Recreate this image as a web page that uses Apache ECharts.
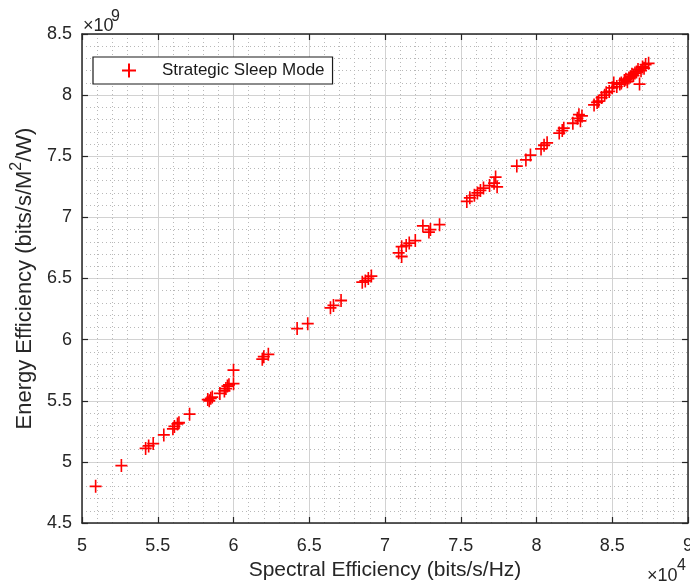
<!DOCTYPE html>
<html>
<head>
<meta charset="utf-8">
<script src="https://cdn.jsdelivr.net/npm/echarts@6/dist/echarts.min.js"></script>
<style>
html,body{margin:0;padding:0;background:#fff;overflow:hidden;}
#chart{width:690px;height:587px;}
</style>
</head>
<body>
<div id="chart"></div>
<script>
// Series name
const seriesName = 'Strategic Sleep Mode';

// Spectral efficiency (x, in units of 1e4 bits/s/Hz)
const spectralEff = [
  5.09, 5.26, 5.42, 5.44, 5.47, 5.54, 5.60, 5.61, 5.63, 5.64,
  5.71, 5.83, 5.84, 5.85, 5.86, 5.91, 5.94, 5.95, 5.96, 5.97,
  6.00, 6.00, 6.19, 6.20, 6.23, 6.42, 6.49, 6.64, 6.66, 6.71,
  6.85, 6.87, 6.89, 6.91, 7.09, 7.11, 7.11, 7.14, 7.16, 7.20,
  7.25, 7.29, 7.30, 7.36, 7.54, 7.56, 7.59, 7.61, 7.63, 7.65,
  7.69, 7.72, 7.73, 7.74, 7.87, 7.93, 7.96, 8.03, 8.05, 8.07,
  8.15, 8.17, 8.18, 8.24, 8.27, 8.28, 8.29, 8.30, 8.38, 8.40,
  8.41, 8.43, 8.45, 8.46, 8.48, 8.50, 8.51, 8.53, 8.55, 8.56,
  8.58, 8.59, 8.60, 8.61, 8.62, 8.63, 8.64, 8.65, 8.66, 8.67,
  8.68, 8.69, 8.70, 8.71, 8.72, 8.74
];

// Energy efficiency (y, in units of 1e9 bits/s/M^2/W)
const energyEff = [
  4.80, 4.97, 5.11, 5.13, 5.15, 5.22, 5.27, 5.29, 5.31, 5.32,
  5.39, 5.51, 5.50, 5.52, 5.53, 5.56, 5.58, 5.60, 5.62, 5.63,
  5.64, 5.75, 5.84, 5.86, 5.88, 6.09, 6.13, 6.26, 6.28, 6.32,
  6.47, 6.48, 6.50, 6.52, 6.71, 6.68, 6.76, 6.77, 6.79, 6.81,
  6.93, 6.88, 6.90, 6.94, 7.13, 7.16, 7.18, 7.20, 7.22, 7.24,
  7.26, 7.28, 7.33, 7.25, 7.42, 7.47, 7.51, 7.56, 7.59, 7.61,
  7.69, 7.71, 7.73, 7.77, 7.81, 7.84, 7.79, 7.83, 7.92, 7.94,
  7.95, 7.98, 8.00, 8.02, 8.03, 8.06, 8.10, 8.07, 8.09, 8.10,
  8.12, 8.13, 8.11, 8.14, 8.15, 8.17, 8.16, 8.18, 8.19, 8.21,
  8.09, 8.20, 8.23, 8.22, 8.25, 8.26
];

// Axis ranges / ticks
const xTicks = [5, 5.5, 6, 6.5, 7, 7.5, 8, 8.5, 9];
const yTicks = [4.5, 5, 5.5, 6, 6.5, 7, 7.5, 8, 8.5];
const xTitle = 'Spectral Efficiency (bits/s/Hz)';
const yTitle = 'Energy Efficiency (bits/s/M{sup|2}/W)';
const xExponent = '4';
const yExponent = '9';

const FONT = '"Liberation Sans", Arial, Helvetica, sans-serif';
const TXT = '#262626';
const plusPath = 'path://M5,0L5,10M0,5L10,5';

const points = spectralEff.map((x, i) => [x, energyEff[i]]);

const chart = echarts.init(document.getElementById('chart'), null, {renderer: 'canvas', width: 690, height: 587});

const baseX = {
  type: 'value',
  min: xTicks[0], max: xTicks[xTicks.length - 1],
  interval: xTicks[1] - xTicks[0],
  axisLine: {show: true, onZero: false, lineStyle: {color: TXT, width: 1.5}},
  axisTick: {show: true, inside: true, length: 6, lineStyle: {color: TXT, width: 1.2}},
  minorTick: {show: false, splitNumber: 5},
};
const baseY = {
  type: 'value',
  min: yTicks[0], max: yTicks[yTicks.length - 1],
  interval: yTicks[1] - yTicks[0],
  axisLine: {show: true, onZero: false, lineStyle: {color: TXT, width: 1.5}},
  axisTick: {show: true, inside: true, length: 6, lineStyle: {color: TXT, width: 1.2}},
  minorTick: {show: false, splitNumber: 5},
};

const option = {
  animation: false,
  backgroundColor: '#ffffff',
  textStyle: {fontFamily: FONT},
  grid: {left: 82, width: 606, top: 34, height: 489, containLabel: false, outerBoundsMode: 'none'},
  xAxis: [
    Object.assign({}, baseX, {
      position: 'bottom',
      axisLabel: {show: true, fontSize: 18, color: TXT, margin: 14, fontFamily: FONT},
      splitLine: {show: true, lineStyle: {color: '#d2d2d2', width: 1}},
      minorSplitLine: {show: true, lineStyle: {color: '#b8b8b8', width: 1, type: [1, 3]}},
      name: xTitle,
      nameLocation: 'middle',
      nameGap: 31,
      nameTextStyle: {fontSize: 21, color: TXT, fontFamily: FONT},
    }),
    Object.assign({}, baseX, {
      position: 'top',
      axisLabel: {show: false},
      splitLine: {show: false},
      minorSplitLine: {show: false},
    }),
  ],
  yAxis: [
    Object.assign({}, baseY, {
      position: 'left',
      axisLabel: {show: true, fontSize: 18, color: TXT, margin: 10, fontFamily: FONT},
      splitLine: {show: true, lineStyle: {color: '#d2d2d2', width: 1}},
      minorSplitLine: {show: true, lineStyle: {color: '#b8b8b8', width: 1, type: [1, 3]}},
      name: yTitle,
      nameLocation: 'middle',
      nameRotate: 90,
      nameGap: 34,
      nameTextStyle: {
        fontSize: 22, color: TXT, fontFamily: FONT,
        rich: {sup: {fontSize: 16, color: TXT, fontFamily: FONT, padding: [0, 0, 16, 0]}}
      },
    }),
    Object.assign({}, baseY, {
      position: 'right',
      axisLabel: {show: false},
      splitLine: {show: false},
      minorSplitLine: {show: false},
    }),
  ],
  legend: {
    show: true,
    left: 93, top: 57,
    orient: 'horizontal',
    backgroundColor: '#ffffff',
    borderColor: '#1a1a1a',
    borderWidth: 1.2,
    borderRadius: 0,
    padding: [5, 8, 5, 28],
    itemWidth: 14, itemHeight: 14,
    data: [{name: seriesName, icon: plusPath}],
    textStyle: {fontSize: 17, color: '#1a1a1a', fontFamily: FONT, padding: [0, 0, 0, 21]},
    selectedMode: false,
  },
  series: [{
    name: seriesName,
    type: 'scatter',
    xAxisIndex: 0, yAxisIndex: 0,
    data: points,
    symbol: plusPath,
    symbolSize: [12, 13],
    itemStyle: {color: 'rgba(0,0,0,0)', borderColor: '#ff0000', borderWidth: 1.7, opacity: 1},
    emphasis: {disabled: true},
    z: 5,
  }],
  graphic: [
    {type: 'text', x: 83, y: 26, style: {text: '×10', font: '18px ' + FONT, fill: TXT, verticalAlign: 'middle'}},
    {type: 'text', x: 111, y: 17, style: {text: yExponent, font: '16px ' + FONT, fill: TXT, verticalAlign: 'middle'}},
    {type: 'text', x: 647, y: 576, style: {text: '×10', font: '18px ' + FONT, fill: TXT, verticalAlign: 'middle'}},
    {type: 'text', x: 677, y: 566, style: {text: xExponent, font: '16px ' + FONT, fill: TXT, verticalAlign: 'middle'}},
  ],
};

chart.setOption(option);
</script>
</body>
</html>
